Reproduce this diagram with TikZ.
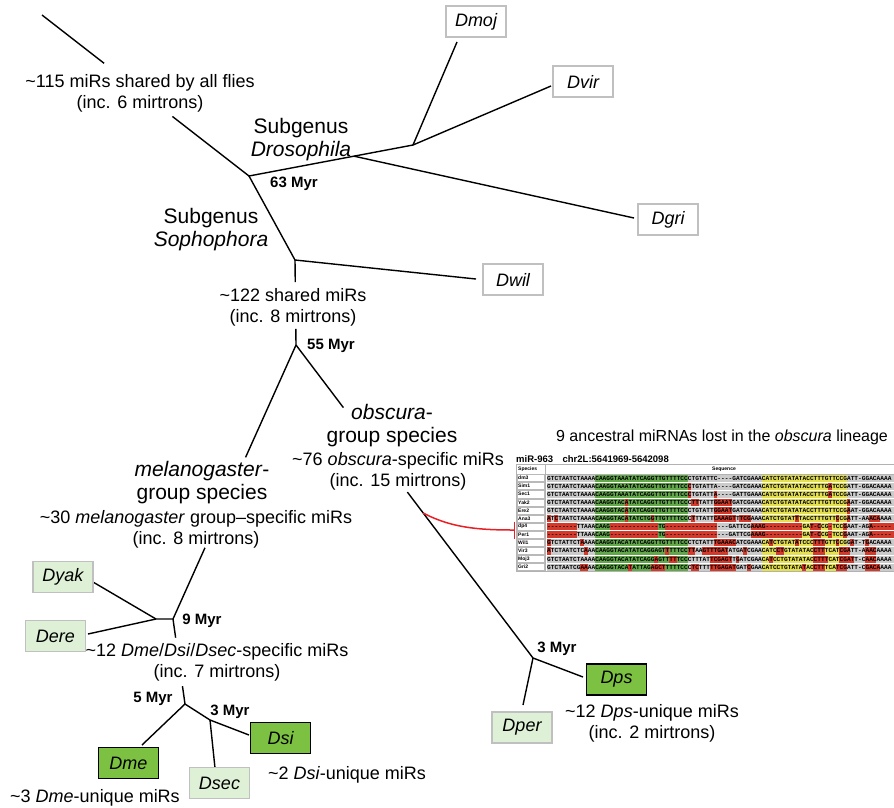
\documentclass[tikz,border=0pt]{standalone}
\usepackage{fontspec}
\setmainfont{Liberation Sans}
\setmonofont{Liberation Mono}[Ligatures=TeXOff]
\usetikzlibrary{calc,arrows.meta}
\definecolor{boxgray}{RGB}{192,192,192}
\definecolor{palegreen}{RGB}{222,240,213}
\definecolor{leafgreen}{RGB}{124,193,66}
\definecolor{lossred}{RGB}{232,32,38}
\definecolor{alngray}{RGB}{203,203,203}
\definecolor{alngreen}{RGB}{98,168,74}
\definecolor{alnyellow}{RGB}{228,224,80}
\definecolor{alnred}{RGB}{212,58,44}
\tikzset{
  branch/.style={line width=1.4pt},
  taxon/.style={draw=boxgray, line width=1.4pt, fill=white, minimum width=60pt, minimum height=31pt, inner sep=0pt, font=\fontsize{18}{20}\selectfont\itshape},
  paletaxon/.style={taxon, fill=palegreen},
  leaftaxon/.style={taxon, fill=leafgreen, draw=black},
  count/.style={align=center, font=\fontsize{18}{21}\selectfont},
  clade/.style={align=center, font=\fontsize{21}{23}\selectfont},
  age/.style={font=\fontsize{15}{17}\selectfont\bfseries},
  alntext/.style={inner sep=0pt, font=\fontsize{5}{5}\selectfont\bfseries}
}
\begin{document}
\begin{tikzpicture}[x=1pt,y=-1pt]
\useasboundingbox (0,0) rectangle (894,807);
\coordinate (rootEnd) at (42,15);
\coordinate (splitGenus) at (249,176);
\coordinate (splitDro) at (413,145);
\coordinate (splitGri) at ($(splitGenus)!0.64!(splitDro)$);
\coordinate (splitSoph) at (295,260);
\coordinate (splitGroups) at (296,345);
\coordinate (splitObs) at (533,658);
\coordinate (splitMel) at (173,619);
\coordinate (splitYakEre) at (156,619);
\coordinate (splitSim) at (185,704);
\coordinate (splitSiSec) at (210,720);
\coordinate (eDmoj) at (457,42);
\coordinate (eDvir) at (551,86);
\coordinate (eDgri) at (634,218);
\coordinate (eDwil) at (476,279);
\coordinate (eDps) at (583,677);
\coordinate (eDper) at (523,705);
\coordinate (eDyak) at (93,582);
\coordinate (eDere) at (88,634);
\coordinate (eDme) at (142,745);
\coordinate (eDsi) at (249,735);
\coordinate (eDsec) at (215,768);
\draw[branch] (rootEnd)--($(rootEnd)!0.3!(splitGenus)$);
\draw[branch] ($(rootEnd)!0.63!(splitGenus)$)--(splitGenus)--(splitDro);
\draw[branch] (splitDro)--(eDmoj);
\draw[branch] (splitDro)--(eDvir);
\draw[branch] (splitGri)--(eDgri);
\draw[branch] (splitGenus)--(splitSoph)--(eDwil);
\draw[branch] (splitSoph)--($(splitSoph)!0.26!(splitGroups)$);
\draw[branch] ($(splitSoph)!0.81!(splitGroups)$)--(splitGroups);
\draw[branch] (splitGroups)--($(splitGroups)!0.2!(splitObs)$);
\draw[branch] ($(splitGroups)!0.47!(splitObs)$)--(splitObs)--(eDps);
\draw[branch] (splitObs)--(eDper);
\draw[branch] (splitGroups)--($(splitGroups)!0.41!(splitMel)$);
\draw[branch] ($(splitGroups)!0.74!(splitMel)$)--(splitMel)--(splitYakEre)--(eDyak);
\draw[branch] (splitYakEre)--(eDere);
\draw[branch] (splitMel)--($(splitMel)!0.22!(splitSim)$);
\draw[branch] ($(splitMel)!0.79!(splitSim)$)--(splitSim)--(eDme);
\draw[branch] (splitSim)--(splitSiSec)--(eDsi);
\draw[branch] (splitSiSec)--(eDsec);
\node[taxon] (dmoj) at (476,21.5) {Dmoj};
\node[taxon] (dvir) at (583,81.5) {Dvir};
\node[taxon] (dgri) at (668,219.5) {Dgri};
\node[taxon] (dwil) at (513,279.5) {Dwil};
\node[paletaxon] (dyak) at (63,577) {Dyak};
\node[paletaxon] (dere) at (55.5,636) {Dere};
\node[leaftaxon] (dme) at (128.5,763) {Dme};
\node[leaftaxon] (dsi) at (280.5,738) {Dsi};
\node[paletaxon] (dsec) at (219.5,783) {Dsec};
\node[leaftaxon] (dps) at (616.5,679.5) {Dps};
\node[paletaxon] (dper) at (522,727.5) {Dper};
\node[count] (allFlies) at (140,93) {\textasciitilde115 miRs shared by all flies\\(inc. 6 mirtrons)};
\node[clade] (subDro) at (301,140) {Subgenus\\\textit{Drosophila}};
\node[age] (age63) at (294,184) {63 Myr};
\node[clade] (subSoph) at (211,230) {Subgenus\\\textit{Sophophora}};
\node[count] (sophShared) at (293,307) {\textasciitilde122 shared miRs\\(inc. 8 mirtrons)};
\node[age] (age55) at (331,346) {55 Myr};
\node[clade] (obsGroup) at (392,426) {\textit{obscura}-\\group species};
\node[count] (obsShared) at (398,471) {\textasciitilde76 \textit{obscura}-specific miRs\\(inc. 15 mirtrons)};
\node[clade] (melGroup) at (202,483) {\textit{melanogaster}-\\group species};
\node[count] (melShared) at (196,529) {\textasciitilde30 \textit{melanogaster} group--specific miRs\\(inc. 8 mirtrons)};
\node[age] (age9) at (202,621) {9 Myr};
\node[count] (simShared) at (217,662) {\textasciitilde12 \textit{Dme}/\textit{Dsi}/\textit{Dsec}-specific miRs\\(inc. 7 mirtrons)};
\node[age] (age5) at (153,699) {5 Myr};
\node[age] (age3sim) at (230,712) {3 Myr};
\node[count] (dmeUnique) at (95,798) {\textasciitilde3 \textit{Dme}-unique miRs};
\node[count] (dsiUnique) at (347,775) {\textasciitilde2 \textit{Dsi}-unique miRs};
\node[age] (age3obs) at (557,649) {3 Myr};
\node[count] (dpsUnique) at (652,723) {\textasciitilde12 \textit{Dps}-unique miRs\\(inc. 2 mirtrons)};
\node[font=\fontsize{16}{18}\selectfont] (lostTitle) at (722,437) {9 ancestral miRNAs lost in the \textit{obscura} lineage};
\begin{scope}
\clip (500,420) rectangle (894,600);
\begin{scope}[shift={(547,474)}]
\fill[white] (-31,-9.5) rectangle (360,97.7);
\fill[alngray] (0,0) rectangle (360,97.2);
\fill[alngreen] (13*3.7,0) rectangle (38*3.7,97.2);
\fill[alnyellow] (58*3.7,0) rectangle (81*3.7,97.2);
\foreach \r/\a/\b in {2/38/38,2/76/76,3/38/38,3/45/45,3/76/76,
  4/21/21,4/39/40,4/45/49,4/81/81,5/21/21,5/45/49,5/81/81,
  6/0/0,6/2/2,6/21/21,6/28/28,6/39/39,6/45/50,6/52/54,6/67/67,6/78/78,6/81/81,6/87/89,
  7/0/7,7/17/29,7/32/45,7/55/68,7/71/73,7/76/76,7/80/80,7/87/96,
  8/0/7,8/17/29,8/32/45,8/55/68,8/71/73,8/76/76,8/80/80,8/87/96,
  9/0/0,9/9/9,9/45/50,9/60/60,9/67/67,9/72/74,9/78/78,9/82/82,9/86/86,
  10/0/0,10/10/10,10/32/32,10/38/39,10/42/48,10/53/53,10/62/63,10/72/74,10/79/81,10/86/88,
  11/29/29,11/33/34,11/44/49,11/51/51,11/60/60,11/72/75,11/79/82,11/86/88,
  12/9/10,12/22/22,12/28/31,12/39/40,12/44/50,12/54/54,12/69/69,12/72/74,12/78/80,12/86/89}
  \fill[alnred] (\a*3.7,\r*8.1-8.1) rectangle (\b*3.7+3.7,\r*8.1);
\foreach \r in {0,...,12}
  \draw[white, line width=0.9pt] (0,\r*8.1)--(360,\r*8.1);
\draw[gray!60, line width=0.8pt] (-31,-9.5) rectangle (360,97.7);
\draw[gray!60, line width=0.6pt] (-2,-9.5)--(-2,97.7);
\draw[gray!60, line width=0.6pt] (-31,0)--(360,0);
\foreach \sp/\sq [count=\r] in {
  dm3/GTCTAATCTAAAACAAGGTAAATATCAGGTTGTTTTCCCTGTATTC----GATCGAAACATCTGTATATACCTTTGTTCCGATT-GGACAAAA,
  Sim1/GTCTAATCTAAAACAAGGTAAATATCAGGTTGTTTTCCCTGTATTA----GATCGAAACATCTGTATATACCTTTGATCCGATT-GGACAAAA,
  Sec1/GTCTAATCTAAAACAAGGTAAATATCAGGTTGTTTTCCCTGTATTA----GATTGAAACATCTGTATATACCTTTGATCCGATT-GGACAAAA,
  Yak2/GTCTAATCTAAAACAAGGTACATATCAGGTTGTTTTCCCTTTATTGGAATGATCGAAACATCTGTATATACCTTTGTTCCGAAT-GGACAAAA,
  Ere2/GTCTAATCTAAAACAAGGTACATATCAGGTTGTTTTCCCTGTATTGGAATGATCGAAACATCTGTATATACCTTTGTTCCGAAT-GGACAAAA,
  Ana3/ATCTAATCTAAAACAAGGTACATATCTGGTTGTTTTCCCTTTATTCAAAGTTTCGAAACATCTGTATTTACCTTTGTTCCGATT-AAACAAAA,
  dp4/--------TTAAACAAG-------------TG-----------------GATTCGAAAG----------GAT-CCG-TCCGAAT-AGA-----,
  Per1/--------TTAAACAAG-------------TG-----------------GATTCGAAAG----------GAT-CCG-TCCGAAT-AGA-----,
  Wil1/GTCTATTCTAAAACAAGGTACATATCAGGTTGTTTTCCCTCTATTTGAAACATCGAAACATCTGTATATCCCTTTGTTCCGGAT-TGACAAAA,
  Vir3/ATCTAATCTCAAACAAGGTACATATCAGGAGTTTTTCCTTAAGTTTGATATGATCGAACATCCTGTATATACCTTTCATCGATT-AAACAAAA,
  Moj3/GTCTAATCTAAAACAAGGTACATATCAGGAGTTTTTCCCTTTATTCGAGTTGATCGAACATCCTGTATATACCTTTCATCGATT-CAACAAAA,
  Gri2/GTCTAATCGAAAACAAGGTACATATTAGAGCTTTTTCCCTCTTTTTGAGATGATCGAACATCCTGTATATACCTTTCATCGATT-CGACAAAA} {
  \draw[gray!55, line width=0.5pt] (-30,\r*8.1-7.6) rectangle (-3,\r*8.1-0.5);
  \node[alntext, anchor=west] (sp\r) at (-29,\r*8.1-4.05) {\sp};
  \node[anchor=west, inner sep=0pt, font=\fontsize{6.17}{6}\selectfont\ttfamily\bfseries] (seq\r) at (0,\r*8.1-4.05) {\sq};
}
\node[alntext, anchor=west] (spHead) at (-29,-4.7) {Species};
\node[alntext] (seqHead) at (177,-4.7) {Sequence};
\node[anchor=base west, inner sep=0pt, font=\fontsize{9.5}{10}\selectfont\bfseries] (alnTitle) at (-31,-11.5) {miR-963\quad chr2L:5641969-5642098};
\end{scope}
\end{scope}
\coordinate (lossStart) at ($(splitGroups)!0.537!(splitObs)$);
\coordinate (lossEnd) at (515,530);
\draw[lossred, line width=1.5pt, -{Bar[width=17pt]}] (lossStart) .. controls (450,527) and (475,530) .. (lossEnd);
\end{tikzpicture}
\end{document}
